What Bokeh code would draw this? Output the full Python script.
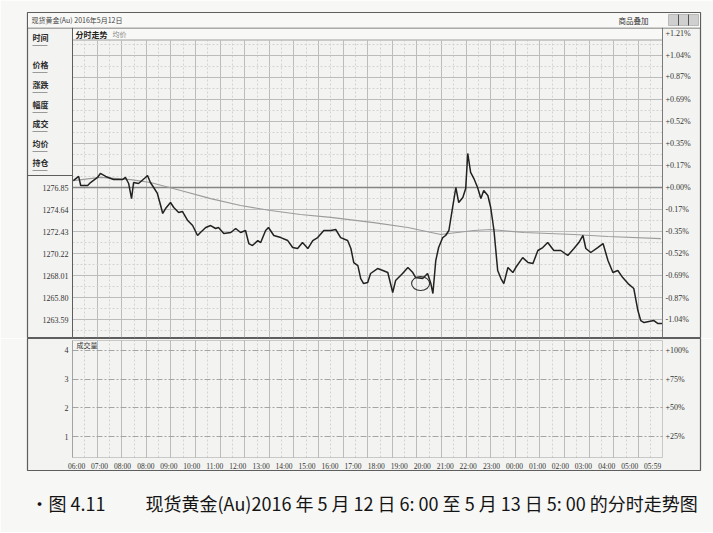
from bokeh.plotting import figure
from bokeh.layouts import column
from bokeh.models import (Range1d, LinearAxis, FixedTicker, NumeralTickFormatter,
                          PrintfTickFormatter, Label, BoxAnnotation, Title, Grid)
from bokeh.embed import file_html
from bokeh.resources import INLINE

# ---------------- data ----------------
prev_close = 1276.85
price_tick_values = [1276.85, 1274.64, 1272.43, 1270.22, 1268.01, 1265.80, 1263.59]
pct_tick_values = [1.21, 1.04, 0.87, 0.69, 0.52, 0.35, 0.17, 0.00,
                   -0.17, -0.35, -0.52, -0.69, -0.87, -1.04]
time_tick_labels = ["06:00", "07:00", "08:00", "08:00", "09:00", "10:00", "11:00",
                    "12:00", "13:00", "14:00", "15:00", "16:00", "17:00", "18:00",
                    "19:00", "20:00", "21:00", "22:00", "23:00", "00:00", "01:00",
                    "02:00", "03:00", "04:00", "05:00", "05:59"]
vol_tick_values = [1, 2, 3, 4]
vol_pct_labels = ["+25%", "+50%", "+75%", "+100%"]

# minutes after 06:00 and price of the intraday line
minutes = [2, 15, 20, 37, 44, 61, 68, 81, 100, 122, 129, 137, 144, 149, 161, 178, 183,
           190, 198, 207, 215, 220, 227, 239, 247, 259, 268, 281, 293, 305, 312, 325,
           337, 349, 356, 369, 386, 398, 410, 422, 430, 439, 452, 459, 471, 478, 491,
           508, 525, 537, 549, 561, 574, 586, 598, 613, 630, 642, 654, 671, 679, 686,
           696, 703, 710, 720, 727, 744, 757, 769, 781, 788, 805, 818, 830, 837, 854,
           866, 874, 879, 886, 893, 903, 910, 918, 927, 935, 942, 952, 959, 964, 971,
           979, 988, 996, 1003, 1013, 1020, 1028, 1037, 1045, 1052, 1062, 1074, 1081,
           1098, 1111, 1123, 1135, 1147, 1159, 1174, 1191, 1208, 1223, 1235, 1245,
           1252, 1264, 1281, 1294, 1306, 1318, 1330, 1342, 1355, 1369, 1379, 1386,
           1394, 1418, 1428, 1439]
prices = [1277.55, 1277.96, 1277.05, 1277.05, 1277.35, 1277.86, 1278.26, 1277.96,
          1277.65, 1277.65, 1277.86, 1277.25, 1275.74, 1277.35, 1277.25, 1277.86,
          1278.06, 1277.35, 1276.85, 1276.25, 1275.04, 1274.24, 1274.74, 1275.34,
          1274.84, 1274.34, 1274.44, 1273.53, 1273.03, 1272.03, 1272.33, 1272.83,
          1273.03, 1272.73, 1272.83, 1272.23, 1272.33, 1272.73, 1272.33, 1272.53,
          1271.22, 1271.02, 1271.52, 1271.32, 1272.53, 1272.83, 1272.03, 1271.82,
          1271.52, 1270.82, 1270.72, 1271.32, 1270.72, 1271.52, 1271.82, 1272.53,
          1272.53, 1272.63, 1271.82, 1271.52, 1270.72, 1269.31, 1269.01, 1267.70,
          1267.20, 1267.30, 1268.21, 1268.71, 1268.51, 1268.31, 1266.30, 1267.50,
          1268.21, 1268.81, 1268.31, 1267.80, 1267.70, 1268.21, 1267.20, 1266.20,
          1269.51, 1270.82, 1271.82, 1272.03, 1272.53, 1274.84, 1276.85, 1275.34,
          1275.84, 1276.75, 1280.27, 1278.36, 1277.75, 1276.85, 1275.74, 1276.55,
          1276.05, 1274.84, 1272.53, 1268.51, 1267.70, 1267.20, 1268.81, 1268.31,
          1268.81, 1269.81, 1269.31, 1269.21, 1270.52, 1270.82, 1271.32, 1270.52,
          1270.52, 1270.02, 1270.72, 1271.32, 1272.03, 1270.72, 1270.32, 1270.82,
          1271.22, 1269.51, 1268.31, 1268.51, 1267.80, 1267.20, 1266.70, 1264.49,
          1263.48, 1263.28, 1263.48, 1263.18, 1263.18]

# average price line
avg_minutes = [2, 68, 142, 190, 264, 337, 410, 483, 556, 630, 735, 818, 898, 979,
               1020, 1101, 1223, 1306, 1435]
avg_prices = [1277.55, 1277.86, 1277.65, 1277.35, 1276.55, 1275.74, 1275.04, 1274.54,
              1274.14, 1273.84, 1273.33, 1272.83, 1272.13, 1272.53, 1272.63, 1272.33,
              1272.13, 1271.93, 1271.72]

# hand-drawn circle mark in the book
mark_minute = [849]
mark_price = [1267.2]

caption = ("•图 4.11\u3000\u3000 现货黄金(Au)2016 年 5 月 12 日 6: 00 至 "
           "5 月 13 日 5: 00 的分时走势图")

# ---------------- layout geometry (page pixels) ----------------
W = 713
OX0, OX1 = 27, 700          # outer box left / right
IX0, IX1 = 72, 662          # inner chart left / right  (minute 0 .. 1439)
PY_TOP, PY_BOT = 12, 337    # price panel frame top / bottom
ZERO_Y = 187                # pixel row of previous close
VY_TOP, VY_BOT = 338, 470   # volume panel frame top / bottom
T_END = 1439

mpp = T_END / (IX1 - IX0)                       # minutes per pixel
step = price_tick_values[0] - price_tick_values[1]
ppp = step / 22.0                               # price per pixel


def mx(X):
    return (X - IX0) * mpp


def py(Y):
    return prev_close - (Y - ZERO_Y) * ppp


def vy(Y):
    return 1 + (436 - Y) / 28.67


CJK = "Noto Sans CJK SC"
NUM = "Liberation Serif"
GRID = "#bcbcbc"
MINOR = "#d3d3d3"
BOX = "#5e5e5e"
BG = "#f3f3f1"


def sbox(fig, fx, fy, x0, x1, y0, y1, fill=None, line=None, lw=1.0):
    fig.add_layout(BoxAnnotation(left=x0 - fx, right=x1 - fx, top=fy - y0, bottom=fy - y1,
                                 left_units="screen", right_units="screen",
                                 top_units="screen", bottom_units="screen",
                                 fill_color=fill, fill_alpha=1 if fill else 0,
                                 line_color=line, line_width=lw, level="overlay"))


def hline(fig, fx, fy, x0, x1, y, color=BOX, w=1.0):
    sbox(fig, fx, fy, x0, x1, y - w / 2, y + w / 2, fill=color)


def vline(fig, fx, fy, x, y0, y1, color=BOX, w=1.0):
    sbox(fig, fx, fy, x - w / 2, x + w / 2, y0, y1, fill=color)


def text(fig, fx, fy, x, y, t, size="8px", font=CJK, style="normal", color="#333",
         align="left"):
    fig.add_layout(Label(x=x - fx, y=fy - y, x_units="screen", y_units="screen", text=t,
                         text_font=font, text_font_size=size, text_font_style=style,
                         text_color=color, text_baseline="middle", text_align=align,
                         level="overlay"))


def style_axis(ax, size="8px", standoff=3):
    ax.axis_line_color = None
    ax.major_tick_line_color = None
    ax.minor_tick_line_color = None
    ax.major_tick_out = 0
    ax.major_tick_in = 0
    ax.major_label_text_font = NUM
    ax.major_label_text_font_size = size
    ax.major_label_text_color = "#333333"
    ax.major_label_standoff = standoff


hour_marks = list(range(0, T_END + 1, 60))
half_marks = list(range(30, T_END, 60))
price_grid = [prev_close + k * step for k in range(-7, 8)]
price_minor = [prev_close + (k + 0.5) * step for k in range(-7, 8)]

# ---------------- price panel ----------------
p = figure(width=W, height=PY_BOT + 1,
           x_range=Range1d(mx(OX0), mx(OX1)), y_range=Range1d(py(PY_BOT), py(PY_TOP)),
           x_axis_location=None, y_axis_location=None, toolbar_location=None,
           output_backend="svg", min_border_left=OX0, min_border_right=W - OX1,
           min_border_top=PY_TOP, min_border_bottom=1,
           background_fill_color=BG, border_fill_color="#f7f7f5",
           outline_line_color=BOX, outline_line_width=1.2)
p.grid.visible = False

p.add_layout(Grid(dimension=0, ticker=FixedTicker(ticks=hour_marks, minor_ticks=half_marks),
                  bounds=(0, T_END), cross_bounds=(py(PY_BOT), py(40)),
                  grid_line_color=GRID, grid_line_width=1,
                  minor_grid_line_color=MINOR, minor_grid_line_dash="2 2"))
p.add_layout(Grid(dimension=1, ticker=FixedTicker(ticks=price_grid, minor_ticks=price_minor),
                  bounds=(py(PY_BOT), py(40)), cross_bounds=(0, T_END),
                  grid_line_color=GRID, grid_line_width=1,
                  minor_grid_line_color=MINOR, minor_grid_line_dash="2 2"))

ax_l = LinearAxis(ticker=FixedTicker(ticks=price_tick_values),
                  formatter=NumeralTickFormatter(format="0.00"))
style_axis(ax_l, standoff=-(68 - OX0))
p.add_layout(ax_l, "left")

p.extra_y_ranges = {"pct": Range1d((py(PY_BOT) / prev_close - 1) * 100,
                                   (py(PY_TOP) / prev_close - 1) * 100)}
ax_r = LinearAxis(y_range_name="pct", ticker=FixedTicker(ticks=pct_tick_values),
                  formatter=PrintfTickFormatter(format="%+.2f%%"))
style_axis(ax_r, standoff=-(OX1 - 665))
p.add_layout(ax_r, "right")

# zero (previous close) line across the inner chart
p.add_layout(BoxAnnotation(left=0, right=T_END, top=prev_close + 0.08,
                           bottom=prev_close - 0.08, fill_color="#858585", fill_alpha=1,
                           line_color=None, level="underlay"))

p.line(avg_minutes, avg_prices, line_color="#9c9c9c", line_width=1.2)
p.line(minutes, prices, line_color="#222222", line_width=1.5)
p.ellipse(x=mark_minute, y=mark_price, width=44, height=1.4, fill_color=None,
          line_color="#333333", line_width=1.1)

FX, FY = OX0, PY_BOT   # frame left / bottom in page px
# header strip + inner chart border
sbox(p, FX, FY, IX0, IX1, 28, 39.5, fill="#f8f8f6")
hline(p, FX, FY, IX0, IX1, 39.5, color="#a0a0a0")
vline(p, FX, FY, IX0, 27, PY_BOT, color=BOX)
vline(p, FX, FY, IX1, 27, PY_BOT, color="#7a7a7a")
text(p, FX, FY, 75, 33.5, "分时走势", size="8px", style="bold", color="#222")
text(p, FX, FY, 112, 33.5, "均价", size="7px", color="#888")

# title bar
hline(p, FX, FY, OX0, OX1, 27.5)
sbox(p, FX, FY, OX0 + 0.5, OX1 - 0.5, PY_TOP + 0.5, 27, fill="#f8f8f6")
text(p, FX, FY, 31, 19.5, "现货黄金(Au) 2016年5月12日", size="7px", color="#444")
text(p, FX, FY, 618, 19.5, "商品叠加", size="7.5px", color="#333")
sbox(p, FX, FY, 668, 698, 14, 25, fill="#cfcfcf", line="#555")
vline(p, FX, FY, 678, 14, 25, color="#555")
vline(p, FX, FY, 688, 14, 25, color="#555")

# left info panel
hline(p, FX, FY, OX0, IX0, 175)
panel_items = [("时间", 37), ("价格", 64), ("涨跌", 84), ("幅度", 104),
               ("成交", 123), ("均价", 143), ("持仓", 162)]
for name, yy in panel_items:
    text(p, FX, FY, 32, yy, name, size="8px", style="bold", color="#2a2a2a")
    hline(p, FX, FY, 32, 47, yy + 8, color="#9a9a9a")

# ---------------- volume panel ----------------
v = figure(width=W, height=532 - PY_BOT - 1, x_range=p.x_range,
           y_range=Range1d(vy(VY_BOT), vy(VY_TOP)),
           x_axis_location=None, y_axis_location=None, toolbar_location=None,
           output_backend="svg", min_border_left=OX0, min_border_right=W - OX1,
           min_border_top=0, min_border_bottom=532 - VY_BOT,
           background_fill_color=BG, border_fill_color="#f7f7f5",
           outline_line_color=BOX, outline_line_width=1.2)
v.grid.visible = False
v.add_layout(Grid(dimension=0, ticker=FixedTicker(ticks=hour_marks, minor_ticks=half_marks),
                  bounds=(0, T_END), cross_bounds=(vy(457), vy(340)),
                  grid_line_color=GRID, grid_line_width=1,
                  minor_grid_line_color=MINOR, minor_grid_line_dash="2 2"))
v.add_layout(Grid(dimension=1, ticker=FixedTicker(ticks=vol_tick_values),
                  cross_bounds=(0, T_END),
                  grid_line_color="#a5a5a5", grid_line_width=1, grid_line_dash="6 2 2 2"))

ax_vl = LinearAxis(ticker=FixedTicker(ticks=vol_tick_values))
style_axis(ax_vl, standoff=-(68 - OX0))
v.add_layout(ax_vl, "left")

v.extra_y_ranges = {"volpct": Range1d(vy(VY_BOT), vy(VY_TOP))}
ax_vr = LinearAxis(y_range_name="volpct", ticker=FixedTicker(ticks=vol_tick_values),
                   major_label_overrides=dict(zip(vol_tick_values, vol_pct_labels)))
style_axis(ax_vr, standoff=-(OX1 - 665))
v.add_layout(ax_vr, "right")

n_lab = len(time_tick_labels)
time_ticks = [round(10 + i * (1405 / (n_lab - 1))) for i in range(n_lab)]
ax_b = LinearAxis(ticker=FixedTicker(ticks=time_ticks),
                  major_label_overrides=dict(zip(time_ticks, time_tick_labels)))
style_axis(ax_b, size="7.5px", standoff=-9)
v.add_layout(ax_b, "below")

cap = Title(text=caption, align="left", offset=3, standoff=29,
            text_font=CJK, text_font_size="18px", text_font_style="normal",
            text_color="#141414")
v.add_layout(cap, "below")

FYV = VY_BOT
sbox(v, FX, FYV, IX0, IX1, 340, 457, fill=None, line="#6a6a6a")
text(v, FX, FYV, 76, 344.5, "成交量", size="7px", color="#333")

layout = column(p, v, spacing=0)
open("out.html", "w").write(file_html(layout, INLINE))
